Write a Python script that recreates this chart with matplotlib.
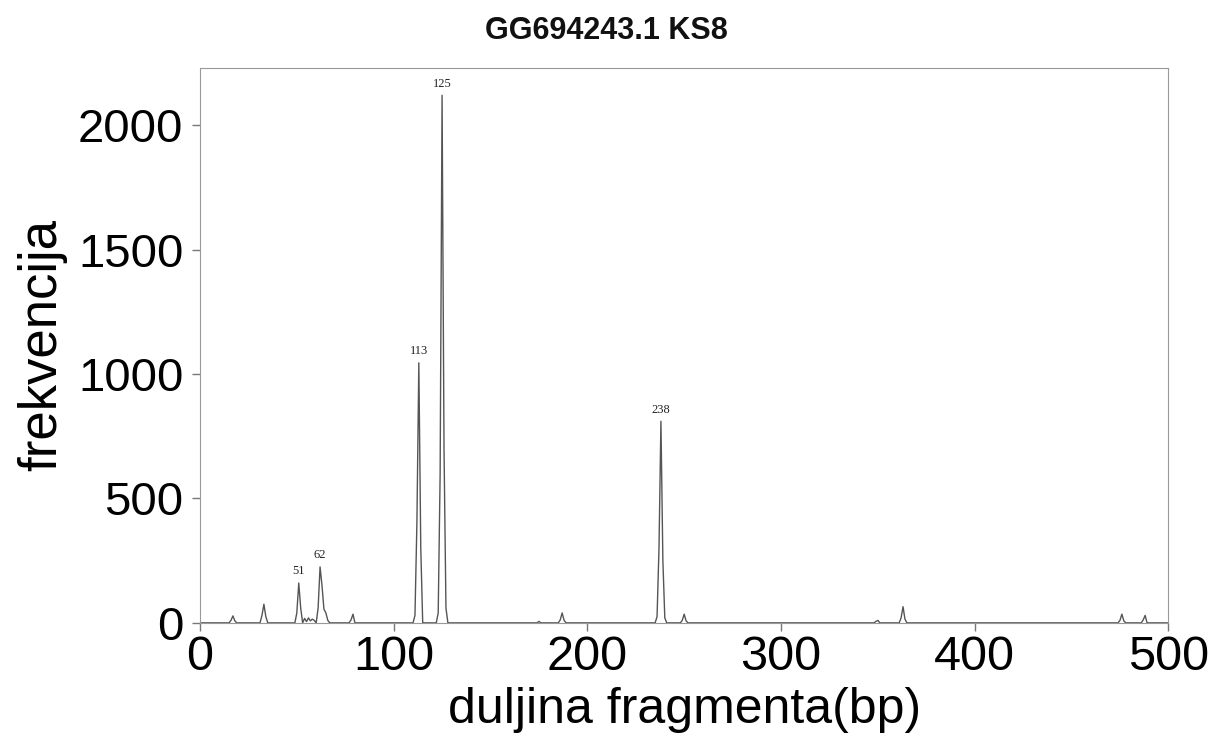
import matplotlib
matplotlib.use("Agg")
import matplotlib.pyplot as plt

# fragment length (bp) and frequency
length = [0, 15, 16, 17, 18, 19, 31, 32, 33, 34, 35, 49, 50, 51, 52, 53, 54, 55, 56, 57, 58, 59, 60,
          61, 62, 63, 64, 65, 66, 67, 77, 78, 79, 80, 110, 111, 112, 113, 114, 115, 122, 123, 124, 125,
          126, 127, 128, 174, 175, 176, 185, 186, 187, 188, 189, 235, 236, 237, 238, 239, 240, 241,
          248, 249, 250, 251, 252, 348, 349, 350, 351, 361, 362, 363, 364, 365, 474, 475, 476, 477,
          478, 486, 487, 488, 489, 500]
freq = [0, 0, 10, 28, 8, 0, 0, 30, 75, 25, 0, 0, 40, 160, 60, 0, 18, 5, 20, 8, 15, 10, 0,
        60, 225, 150, 55, 40, 10, 0, 0, 12, 35, 0, 0, 30, 400, 1045, 300, 0, 0, 40, 600, 2120,
        700, 60, 0, 0, 6, 0, 0, 12, 40, 10, 0, 0, 25, 300, 810, 250, 20, 0, 0, 10, 35, 8, 0, 0, 6,
        10, 0, 0, 20, 65, 15, 0, 0, 10, 35, 8, 0, 0, 12, 30, 0, 0]

peak_x = [51, 62, 113, 125, 238]
peak_y = [160, 225, 1045, 2120, 810]
peak_labels = ["51", "62", "113", "125", "238"]

fig = plt.figure(figsize=(12.12, 7.38), dpi=100)
ax = fig.add_axes([0.165, 0.156, 0.799, 0.752])
ax.plot(length, freq, color="#555555", linewidth=1.0)
for x, y, t in zip(peak_x, peak_y, peak_labels):
    ax.annotate(t, (x, y), xytext=(0, 4), textcoords="offset points", ha="center", va="bottom",
                fontsize=9, family="Liberation Serif", color="#222222")

ax.set_xlim(0, 500)
ax.set_ylim(0, 2230)
ax.set_xticks([0, 100, 200, 300, 400, 500])
ax.set_yticks([0, 500, 1000, 1500, 2000])
for s in ax.spines.values():
    s.set_color("#999999")
ax.tick_params(axis="both", labelsize=34, direction="out", length=6, color="#777777", width=1, pad=6)
ax.tick_params(axis="x", labelsize=35, pad=3)
ax.set_xlabel("duljina fragmenta(bp)", fontsize=36, family="Liberation Sans", labelpad=5)
ax.set_ylabel("frekvencija", fontsize=38, family="Liberation Sans", labelpad=8)
for lbl in ax.get_xticklabels() + ax.get_yticklabels():
    lbl.set_family("Liberation Sans")
fig.text(0.5, 0.958, "GG694243.1 KS8", ha="center", va="center", fontsize=22,
         fontweight="bold", family="Liberation Sans", color="#111111")
fig.savefig("out.png", dpi=100, facecolor="white")
